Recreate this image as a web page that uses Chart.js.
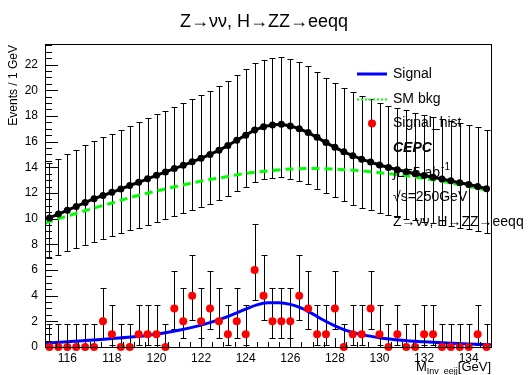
<!DOCTYPE html>
<html lang="en">
<head>
<meta charset="UTF-8">
<title>Z→νν, H→ZZ→eeqq</title>
<script src="https://cdn.jsdelivr.net/npm/chart.js"></script>
<style>
  html, body { margin: 0; padding: 0; background: #fff; }
  #wrap { position: relative; width: 530px; height: 375px; }
</style>
</head>
<body>
<div id="wrap"><canvas id="massChart" width="530" height="375"></canvas></div>
<script>
// bin centres (0.4 GeV bins from 115 to 135)
const binMass = [115.2, 115.6, 116.0, 116.4, 116.8, 117.2, 117.6, 118.0, 118.4, 118.8,
                 119.2, 119.6, 120.0, 120.4, 120.8, 121.2, 121.6, 122.0, 122.4, 122.8,
                 123.2, 123.6, 124.0, 124.4, 124.8, 125.2, 125.6, 126.0, 126.4, 126.8,
                 127.2, 127.6, 128.0, 128.4, 128.8, 129.2, 129.6, 130.0, 130.4, 130.8,
                 131.2, 131.6, 132.0, 132.4, 132.8, 133.2, 133.6, 134.0, 134.4, 134.8];

// signal + bkg expectation (black points)
const totalEvents = [10.05, 10.35, 10.65, 10.95, 11.25, 11.55, 11.8, 12.05, 12.3, 12.58,
                     12.83, 13.1, 13.37, 13.64, 13.9, 14.15, 14.42, 14.7, 15.0, 15.32,
                     15.69, 16.1, 16.5, 16.9, 17.15, 17.3, 17.35, 17.22, 17.0, 16.7,
                     16.33, 15.92, 15.55, 15.2, 14.9, 14.63, 14.4, 14.18, 13.98, 13.8,
                     13.65, 13.5, 13.36, 13.22, 13.08, 12.94, 12.8, 12.66, 12.5, 12.32];

// Signal_hist (red points)
const signalHist = [0, 0, 0, 0, 0, 0, 2, 1, 0, 0,
                    1, 1, 1, 0, 3, 2, 4, 2, 3, 2,
                    1, 2, 1, 6, 4, 2, 2, 2, 4, 3,
                    1, 1, 3, 0, 1, 1, 3, 1, 0, 1,
                    0, 0, 1, 1, 0, 0, 0, 0, 1, 0];

// Signal shape (blue curve)
const signalMass = [115, 116, 117, 118, 119, 120, 121, 122, 123, 124, 124.5, 125, 125.5,
                    126, 126.5, 127, 127.5, 128, 128.5, 129, 130, 131, 132, 133, 134, 135];
const signalCurve = [0.30, 0.40, 0.52, 0.66, 0.80, 1.0, 1.3, 1.7, 2.25, 2.95, 3.28, 3.44, 3.45,
                     3.32, 3.02, 2.58, 2.08, 1.65, 1.3, 1.04, 0.72, 0.52, 0.4, 0.31, 0.23, 0.17];

// SM background shape (green dashed curve)
const bkgMass = [115, 116, 117, 118, 119, 120, 121, 122, 123, 124, 125,
                 126, 127, 128, 129, 130, 131, 132, 133, 134, 135];
const bkgCurve = [9.65, 10.2, 10.72, 11.22, 11.72, 12.15, 12.55, 12.92, 13.22, 13.52, 13.72,
                  13.86, 13.9, 13.86, 13.74, 13.58, 13.38, 13.13, 12.84, 12.5, 12.15];

const xTickLabels = [116, 118, 120, 122, 124, 126, 128, 130, 132, 134];
const yTickLabels = [0, 2, 4, 6, 8, 10, 12, 14, 16, 18, 20, 22];

const FONT = "'Liberation Sans', Arial, Helvetica, sans-serif";

// Garwood-style 68% poisson interval (Wilson-Hilferty approx), as RooFit draws it
function poissonLow(n) {
    if (n <= 0) return 0;
    const t = 1 - 1 / (9 * n) - 1 / (3 * Math.sqrt(n));
    return n * t * t * t;
}
function poissonHigh(n) {
    const m = n + 1;
    const t = 1 - 1 / (9 * m) + 1 / (3 * Math.sqrt(m));
    return m * t * t * t;
}

function xy(xs, ys) { return xs.map((x, i) => ({ x: x, y: ys[i] })); }

const errorBars = {
    id: 'errorBars',
    beforeDatasetsDraw(chart) {
        const ctx = chart.ctx, xs = chart.scales.x, ys = chart.scales.y;
        ctx.save();
        ctx.strokeStyle = '#000';
        ctx.lineWidth = 1;
        const draw = (vals) => {
            vals.forEach((n, i) => {
                const px = Math.round(xs.getPixelForValue(binMass[i])) + 0.5;
                const lo = Math.round(ys.getPixelForValue(poissonLow(n))) + 0.5;
                const hi = Math.round(ys.getPixelForValue(poissonHigh(n))) + 0.5;
                ctx.beginPath();
                ctx.moveTo(px, lo); ctx.lineTo(px, hi);
                ctx.moveTo(px - 3, lo); ctx.lineTo(px + 3, lo);
                ctx.moveTo(px - 3, hi); ctx.lineTo(px + 3, hi);
                ctx.stroke();
            });
        };
        draw(totalEvents);
        draw(signalHist);
        ctx.restore();
    }
};

const rootFrame = {
    id: 'rootFrame',
    afterDraw(chart) {
        const ctx = chart.ctx, a = chart.chartArea;
        const xs = chart.scales.x, ys = chart.scales.y;
        ctx.save();
        ctx.strokeStyle = '#000';
        ctx.lineWidth = 1;
        ctx.strokeRect(a.left + 0.5, a.top + 0.5, a.right - a.left, a.bottom - a.top);

        // ticks drawn inside the frame, ROOT style
        ctx.beginPath();
        for (let k = 0; k <= 47; k++) {
            const py = Math.round(ys.getPixelForValue(k * 0.5)) + 0.5;
            const len = (k % 4 === 0) ? 13 : 7;
            ctx.moveTo(a.left, py); ctx.lineTo(a.left + len, py);
        }
        for (let k = 0; k <= 40; k++) {
            const v = 115 + k * 0.5;
            const px = Math.round(xs.getPixelForValue(v)) + 0.5;
            const len = (v % 2 === 0) ? 9 : 5;
            ctx.moveTo(px, a.bottom); ctx.lineTo(px, a.bottom - len);
        }
        ctx.stroke();

        ctx.fillStyle = '#000';
        // title
        ctx.font = '18px ' + FONT;
        ctx.textAlign = 'center';
        ctx.textBaseline = 'alphabetic';
        ctx.fillText('Z\u2192\u03bd\u03bd, H\u2192ZZ\u2192eeqq', 264, 27);

        // y title
        ctx.save();
        ctx.translate(14, 45);
        ctx.rotate(-Math.PI / 2);
        ctx.font = '12px ' + FONT;
        ctx.textAlign = 'right';
        ctx.textBaseline = 'middle';
        ctx.fillText('Events / 1 GeV', 0, 0);
        ctx.restore();

        // x title: M_{Inv_eejj}[GeV]
        ctx.textAlign = 'right';
        ctx.font = '13px ' + FONT;
        const gev = '[GeV]';
        ctx.fillText(gev, 491, 371);
        let xr = 491 - ctx.measureText(gev).width;
        ctx.font = '9px ' + FONT;
        ctx.fillText('Inv_eejj', xr, 374);
        xr -= ctx.measureText('Inv_eejj').width;
        ctx.font = '13px ' + FONT;
        ctx.fillText('M', xr, 371);

        // legend
        const lx = 393;
        ctx.lineWidth = 3;
        ctx.strokeStyle = '#0000ff';
        ctx.beginPath(); ctx.moveTo(357, 74); ctx.lineTo(387, 74); ctx.stroke();
        ctx.strokeStyle = '#00ff00';
        ctx.lineWidth = 2;
        ctx.setLineDash([2, 2]);
        ctx.beginPath(); ctx.moveTo(357, 99.5); ctx.lineTo(389, 99.5); ctx.stroke();
        ctx.setLineDash([]);
        ctx.fillStyle = '#ff0000';
        ctx.beginPath(); ctx.arc(372, 123.5, 4, 0, Math.PI * 2); ctx.fill();

        ctx.fillStyle = '#000';
        ctx.textAlign = 'left';
        ctx.textBaseline = 'middle';
        ctx.font = '14px ' + FONT;
        ctx.fillText('Signal', lx, 74);
        ctx.fillText('SM bkg', lx, 99);
        ctx.fillText('Signal_hist', lx, 123.5);
        ctx.font = 'italic bold 14px ' + FONT;
        ctx.fillText('CEPC', lx, 148);
        ctx.font = '14px ' + FONT;
        const lum = '\u222bL=5 ab';
        ctx.fillText(lum, lx, 173);
        const lumW = ctx.measureText(lum).width;
        ctx.font = '10px ' + FONT;
        ctx.fillText('-1', lx + lumW + 1, 167);
        ctx.font = '14px ' + FONT;
        ctx.fillText('\u221as=250GeV', lx, 197.5);
        ctx.fillText('Z\u2192\u03bd\u03bd, H\u2192ZZ\u2192eeqq', lx, 222);
        ctx.restore();
    }
};

Chart.defaults.font.family = FONT;
Chart.defaults.color = '#000';

new Chart(document.getElementById('massChart').getContext('2d'), {
    type: 'scatter',
    data: {
        datasets: [
            {
                label: 'Signal_hist',
                data: xy(binMass, signalHist),
                showLine: false,
                pointRadius: 4,
                pointBorderWidth: 0,
                pointBackgroundColor: '#ff0000',
                clip: false,
                order: 0
            },
            {
                label: 'Signal',
                data: xy(signalMass, signalCurve),
                showLine: true,
                borderColor: '#0000ff',
                borderWidth: 3,
                pointRadius: 0,
                cubicInterpolationMode: 'monotone',
                order: 1
            },
            {
                label: 'Signal+bkg',
                data: xy(binMass, totalEvents),
                showLine: true,
                borderColor: '#000',
                borderWidth: 3,
                pointRadius: 3.5,
                pointBorderWidth: 0,
                pointBackgroundColor: '#000',
                order: 2
            },
            {
                label: 'SM bkg',
                data: xy(bkgMass, bkgCurve),
                showLine: true,
                borderColor: '#00ff00',
                borderWidth: 3,
                borderDash: [8, 5],
                pointRadius: 0,
                cubicInterpolationMode: 'monotone',
                order: 3
            }
        ]
    },
    options: {
        responsive: false,
        animation: false,
        devicePixelRatio: 1,
        layout: { padding: { top: 44, right: 39, left: 0, bottom: 0 } },
        plugins: {
            legend: { display: false },
            title: { display: false },
            tooltip: { enabled: false }
        },
        scales: {
            x: {
                type: 'linear',
                min: 115,
                max: 135,
                grid: { display: false, drawTicks: false, tickLength: 0 },
                border: { display: false },
                afterBuildTicks: s => { s.ticks = xTickLabels.map(v => ({ value: v })); },
                afterFit: s => { s.height = 28; },
                ticks: { autoSkip: false, maxRotation: 0, padding: 4, font: { size: 12 } }
            },
            y: {
                min: 0,
                max: 23.6,
                grid: { display: false, drawTicks: false, tickLength: 0 },
                border: { display: false },
                afterBuildTicks: s => { s.ticks = yTickLabels.map(v => ({ value: v })); },
                afterFit: s => { s.width = 45; },
                ticks: { autoSkip: false, padding: 7, font: { size: 12 } }
            }
        }
    },
    plugins: [errorBars, rootFrame]
});
</script>
</body>
</html>
